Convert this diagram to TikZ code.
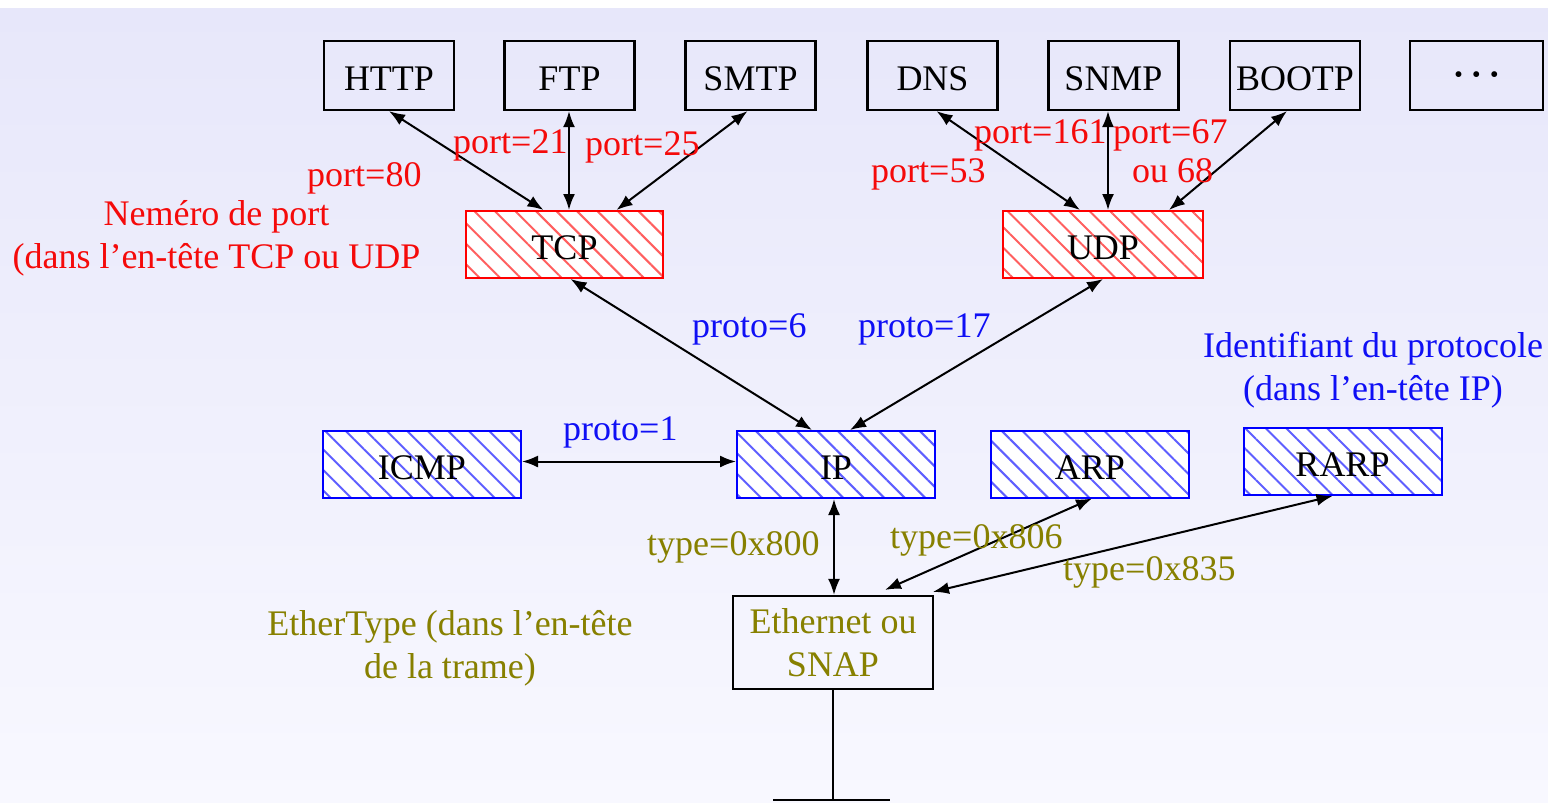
\documentclass[tikz,border=0pt]{standalone}
\usepackage{fontspec}
\setmainfont{Liberation Serif}
\usetikzlibrary{arrows.meta,patterns.meta,calc}
\definecolor{olivetxt}{RGB}{135,128,0}
\definecolor{bgtop}{RGB}{231,231,250}
\definecolor{bgbot}{RGB}{248,248,255}
\definecolor{hatchred}{RGB}{255,95,95}
\definecolor{hatchblue}{RGB}{95,95,255}
\definecolor{portred}{RGB}{245,10,10}
\definecolor{protoblue}{RGB}{15,15,245}

\begin{document}
\begin{tikzpicture}[x=1pt,y=-1pt,
  every node/.style={font=\fontsize{36}{43}\selectfont},
  boxtext/.style={inner sep=0pt,text height=30pt,text depth=0pt},
  appbox/.style={boxtext,draw=black,line width=2.2pt,minimum width=130pt,minimum height=69pt},
  hatched/.style={boxtext,line width=2pt,minimum width=198pt,minimum height=67pt,
    preaction={fill=white},
    preaction={pattern={Lines[angle=-45,distance=14.5pt,line width=2pt]},pattern color=#1}},
  transport/.style={hatched=hatchred,draw=red},
  netlayer/.style={hatched=hatchblue,draw=blue},
  link/.style={{Latex[length=16pt,width=12pt]}-{Latex[length=16pt,width=12pt]},line width=2pt},
  lbl/.style={anchor=base west,inner sep=0pt},
  portlbl/.style={lbl,text=portred},
  protolbl/.style={lbl,text=protoblue},
  typelbl/.style={lbl,text=olivetxt},
  note/.style={align=center,inner sep=0pt}]

\useasboundingbox (0,0) rectangle (1548,803);
\fill[white] (0,0) rectangle (1548,8);
\fill[top color=bgtop,bottom color=bgbot] (0,8) rectangle (1548,803);

% application layer
\node[appbox] (HTTP)  at (389,75.5)   {HTTP};
\node[appbox] (FTP)   at (569.5,75.5) {FTP};
\node[appbox] (SMTP)  at (750.5,75.5) {SMTP};
\node[appbox] (DNS)   at (932.5,75.5) {DNS};
\node[appbox] (SNMP)  at (1113.5,75.5){SNMP};
\node[appbox] (BOOTP) at (1295,75.5)  {BOOTP};
\node[appbox,minimum width=133pt] (more) at (1476.5,75.5)
  {\raisebox{4pt}{\bfseries ·\kern6pt·\kern6pt·}};

% transport layer
\node[transport,minimum width=197pt] (TCP) at (564.5,244.5) {TCP};
\node[transport,minimum width=200pt] (UDP) at (1103,244.5) {UDP};

% network layer
\node[netlayer] (ICMP) at (422,464.5) {ICMP};
\node[netlayer] (IP)   at (836,464.5) {IP};
\node[netlayer] (ARP)  at (1090,464)  {ARP};
\node[netlayer] (RARP) at (1342.5,461.5) {RARP};

% link layer
\node[draw=black,line width=2.2pt,minimum width=200pt,minimum height=93pt,inner sep=0pt,
      align=center,text=olivetxt] (Eth) at (833,642.5) {Ethernet ou\\SNAP};
\coordinate (gnd) at (833,800);

% ports
\draw[link] (HTTP.south) -- ([xshift=-21pt]TCP.north);
\draw[link] ($(FTP.south)+(-0.5,0)$) -- ($(FTP.south |- TCP.north)+(-0.5,0)$);
\draw[link] ([xshift=-3pt]SMTP.south) -- ([xshift=52pt]TCP.north);
\draw[link] ([xshift=4pt]DNS.south) -- ([xshift=-23pt]UDP.north);
\draw[link] ($(SNMP.south)+(-5.5,0)$) -- ($(SNMP.south |- UDP.north)+(-5.5,0)$);
\draw[link] ([xshift=-8pt]BOOTP.south) -- ([xshift=66pt]UDP.north);

% protocol numbers
\draw[link] ([xshift=6pt]TCP.south) -- ([xshift=-24pt]IP.north);
\draw[link] (UDP.south) -- ([xshift=14pt]IP.north);
\draw[link] ([yshift=3pt]ICMP.east) -- ([yshift=3pt]IP.west);

% ethertypes
\draw[link] ([xshift=-2pt]IP.south) -- ([xshift=1pt]Eth.north);
\draw[link] ([xshift=2pt]ARP.south) -- ([xshift=52pt,yshift=5pt]Eth.north);
\draw[link] ([xshift=-10pt]RARP.south) -- ([xshift=100pt,yshift=3pt]Eth.north);

% medium
\draw[line width=2pt] (Eth.south) -- (gnd);
\draw[line width=2pt] ([xshift=-60pt]gnd) -- ([xshift=57pt]gnd);

% labels
\node[portlbl] (p80)  at (307,186)  {port=80};
\node[portlbl] (p21)  at (453,153)  {port=21};
\node[portlbl] (p25)  at (585,155)  {port=25};
\node[portlbl] (p53)  at (871,182)  {port=53};
\node[portlbl] (p161) at (974,143)  {port=161};
\node[portlbl] (p67)  at (1113,143) {port=67};
\node[portlbl] (p68)  at (1132,182) {ou 68};
\node[note,text=portred] (portnote) at (216.5,238)
  {Neméro de port\\(dans l’en-tête TCP ou UDP};

\node[protolbl] (pr6)  at (692,337) {proto=6};
\node[protolbl] (pr17) at (858,337) {proto=17};
\node[protolbl] (pr1)  at (563,440) {proto=1};
\node[note,text=protoblue] (protonote) at (1373,370)
  {Identifiant du protocole\\(dans l’en-tête IP)};

\node[typelbl] (t800) at (647,555)  {type=0x800};
\node[typelbl] (t806) at (890,548)  {type=0x806};
\node[typelbl] (t835) at (1063,580) {type=0x835};
\node[note,text=olivetxt] (typenote) at (450,648)
  {EtherType (dans l’en-tête\\de la trame)};
\end{tikzpicture}
\end{document}
